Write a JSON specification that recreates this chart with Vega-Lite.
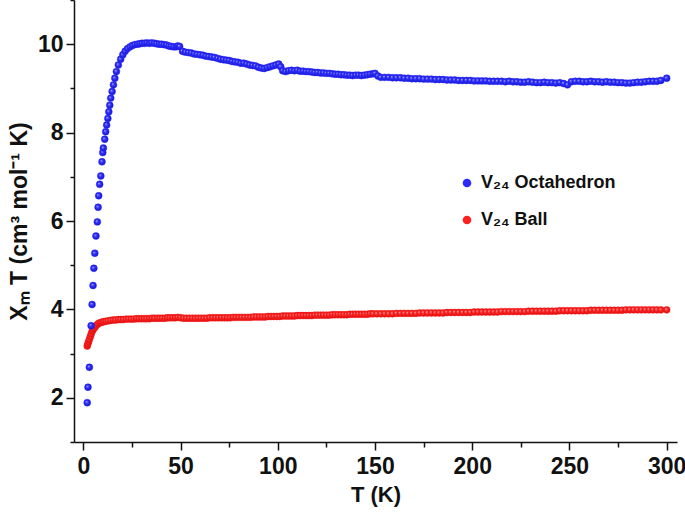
{
  "$schema": "https://vega.github.io/schema/vega-lite/v6.json",
  "width": 603,
  "height": 442,
  "autosize": "none",
  "padding": {"left": 74, "top": 0, "right": 8, "bottom": 71},
  "background": "white",
  "config": {
    "view": {"stroke": null},
    "font": "Liberation Sans",
    "axis": {
      "domainColor": "#111",
      "domainWidth": 1.5,
      "tickColor": "#111",
      "tickWidth": 1.5,
      "grid": false,
      "labelFont": "Liberation Sans",
      "labelFontWeight": "bold",
      "labelFontSize": 23,
      "labelColor": "#111",
      "titleFont": "Liberation Sans",
      "titleFontWeight": "bold",
      "titleFontSize": 22,
      "titleColor": "#111"
    }
  },
  "datasets": {
    "oct": [
      {"T": 2.0, "v": 1.89}, {"T": 2.4, "v": 2.24}, {"T": 3.1, "v": 2.69}, {"T": 4.0, "v": 3.63}, {"T": 4.5, "v": 4.11},
      {"T": 5.0, "v": 4.54}, {"T": 5.4, "v": 4.93}, {"T": 5.9, "v": 5.27}, {"T": 6.5, "v": 5.66}, {"T": 7.2, "v": 5.98},
      {"T": 7.6, "v": 6.31}, {"T": 7.9, "v": 6.57}, {"T": 8.4, "v": 6.83}, {"T": 9.0, "v": 7.02}, {"T": 9.6, "v": 7.34},
      {"T": 10.0, "v": 7.55}, {"T": 10.3, "v": 7.65}, {"T": 11.0, "v": 7.85}, {"T": 11.5, "v": 8.02}, {"T": 12.0, "v": 8.17},
      {"T": 12.6, "v": 8.32}, {"T": 13.1, "v": 8.47}, {"T": 13.6, "v": 8.62}, {"T": 14.1, "v": 8.78}, {"T": 14.8, "v": 8.93},
      {"T": 15.5, "v": 9.08}, {"T": 16.2, "v": 9.23}, {"T": 17.0, "v": 9.38}, {"T": 18.0, "v": 9.53}, {"T": 19.2, "v": 9.66},
      {"T": 20.3, "v": 9.76}, {"T": 21.5, "v": 9.84}, {"T": 22.7, "v": 9.9}, {"T": 24.0, "v": 9.94}, {"T": 25.2, "v": 9.97},
      {"T": 26.5, "v": 9.99}, {"T": 27.8, "v": 10.0}, {"T": 29.0, "v": 10.01}, {"T": 30.2, "v": 10.02}, {"T": 31.5, "v": 10.02},
      {"T": 32.7, "v": 10.03}, {"T": 34.0, "v": 10.02}, {"T": 35.2, "v": 10.03}, {"T": 36.5, "v": 10.02}, {"T": 37.7, "v": 10.01},
      {"T": 39.0, "v": 10.0}, {"T": 40.2, "v": 10.0}, {"T": 41.5, "v": 9.99}, {"T": 42.7, "v": 9.98}, {"T": 44.0, "v": 9.96},
      {"T": 45.2, "v": 9.95}, {"T": 46.5, "v": 9.94}, {"T": 47.7, "v": 9.94}, {"T": 48.5, "v": 9.96}, {"T": 49.5, "v": 9.95},
      {"T": 51.0, "v": 9.84}, {"T": 52.5, "v": 9.82}, {"T": 54.0, "v": 9.81}, {"T": 55.5, "v": 9.8}, {"T": 57.0, "v": 9.78},
      {"T": 58.5, "v": 9.77}, {"T": 60.0, "v": 9.76}, {"T": 61.5, "v": 9.75}, {"T": 63.0, "v": 9.73}, {"T": 64.5, "v": 9.72},
      {"T": 66.0, "v": 9.71}, {"T": 67.5, "v": 9.7}, {"T": 69.0, "v": 9.68}, {"T": 70.5, "v": 9.66}, {"T": 72.0, "v": 9.65},
      {"T": 73.5, "v": 9.64}, {"T": 75.0, "v": 9.63}, {"T": 76.5, "v": 9.61}, {"T": 78.0, "v": 9.6}, {"T": 79.5, "v": 9.59},
      {"T": 81.0, "v": 9.57}, {"T": 82.5, "v": 9.57}, {"T": 84.0, "v": 9.55}, {"T": 85.5, "v": 9.53}, {"T": 87.0, "v": 9.52},
      {"T": 88.5, "v": 9.51}, {"T": 90.0, "v": 9.48}, {"T": 91.5, "v": 9.46}, {"T": 93.0, "v": 9.45}, {"T": 94.5, "v": 9.47},
      {"T": 96.0, "v": 9.49}, {"T": 97.5, "v": 9.51}, {"T": 99.0, "v": 9.53}, {"T": 100.5, "v": 9.55}, {"T": 101.5, "v": 9.49},
      {"T": 102.5, "v": 9.4}, {"T": 104.0, "v": 9.38}, {"T": 105.5, "v": 9.4}, {"T": 107.0, "v": 9.41}, {"T": 108.5, "v": 9.4},
      {"T": 110.0, "v": 9.41}, {"T": 111.5, "v": 9.39}, {"T": 113.0, "v": 9.39}, {"T": 114.5, "v": 9.38}, {"T": 116.0, "v": 9.38},
      {"T": 117.5, "v": 9.37}, {"T": 119.0, "v": 9.36}, {"T": 120.5, "v": 9.36}, {"T": 122.0, "v": 9.35}, {"T": 123.5, "v": 9.35},
      {"T": 125.0, "v": 9.34}, {"T": 126.5, "v": 9.34}, {"T": 128.0, "v": 9.33}, {"T": 129.5, "v": 9.32}, {"T": 131.0, "v": 9.32},
      {"T": 132.5, "v": 9.31}, {"T": 134.0, "v": 9.31}, {"T": 135.5, "v": 9.3}, {"T": 137.0, "v": 9.3}, {"T": 138.5, "v": 9.29},
      {"T": 140.0, "v": 9.3}, {"T": 141.5, "v": 9.3}, {"T": 143.0, "v": 9.29}, {"T": 144.5, "v": 9.3}, {"T": 146.0, "v": 9.31},
      {"T": 147.5, "v": 9.32}, {"T": 149.0, "v": 9.33}, {"T": 150.0, "v": 9.34}, {"T": 151.5, "v": 9.28}, {"T": 153.0, "v": 9.25},
      {"T": 155, "v": 9.25}, {"T": 157, "v": 9.25}, {"T": 159, "v": 9.24}, {"T": 161, "v": 9.24}, {"T": 163, "v": 9.24},
      {"T": 165, "v": 9.23}, {"T": 167, "v": 9.23}, {"T": 169, "v": 9.22}, {"T": 171, "v": 9.22}, {"T": 173, "v": 9.22},
      {"T": 175, "v": 9.21}, {"T": 177, "v": 9.21}, {"T": 179, "v": 9.21}, {"T": 181, "v": 9.2}, {"T": 183, "v": 9.2},
      {"T": 185, "v": 9.2}, {"T": 187, "v": 9.19}, {"T": 189, "v": 9.19}, {"T": 191, "v": 9.19}, {"T": 193, "v": 9.18},
      {"T": 195, "v": 9.18}, {"T": 197, "v": 9.18}, {"T": 199, "v": 9.18}, {"T": 201, "v": 9.17}, {"T": 203, "v": 9.17},
      {"T": 205, "v": 9.17}, {"T": 207, "v": 9.17}, {"T": 209, "v": 9.16}, {"T": 211, "v": 9.16}, {"T": 213, "v": 9.16},
      {"T": 215, "v": 9.16}, {"T": 217, "v": 9.15}, {"T": 219, "v": 9.16}, {"T": 221, "v": 9.15}, {"T": 223, "v": 9.15},
      {"T": 225, "v": 9.14}, {"T": 227, "v": 9.14}, {"T": 229, "v": 9.15}, {"T": 231, "v": 9.14}, {"T": 233, "v": 9.13},
      {"T": 235, "v": 9.13}, {"T": 237, "v": 9.14}, {"T": 239, "v": 9.13}, {"T": 241, "v": 9.13}, {"T": 243, "v": 9.12},
      {"T": 245, "v": 9.13}, {"T": 247, "v": 9.11}, {"T": 249, "v": 9.08}, {"T": 251, "v": 9.15}, {"T": 253, "v": 9.16},
      {"T": 255, "v": 9.16}, {"T": 257, "v": 9.15}, {"T": 259, "v": 9.15}, {"T": 261, "v": 9.16}, {"T": 263, "v": 9.15},
      {"T": 265, "v": 9.15}, {"T": 267, "v": 9.14}, {"T": 269, "v": 9.15}, {"T": 271, "v": 9.14}, {"T": 273, "v": 9.14},
      {"T": 275, "v": 9.13}, {"T": 277, "v": 9.13}, {"T": 279, "v": 9.12}, {"T": 281, "v": 9.12}, {"T": 283, "v": 9.13},
      {"T": 285, "v": 9.14}, {"T": 287, "v": 9.14}, {"T": 289, "v": 9.15}, {"T": 291, "v": 9.16}, {"T": 293, "v": 9.16},
      {"T": 295, "v": 9.16}, {"T": 297, "v": 9.18}, {"T": 300, "v": 9.23}
    ],
    "ball": [
      {"T": 2.0, "v": 3.17}, {"T": 2.3, "v": 3.22}, {"T": 2.7, "v": 3.27}, {"T": 3.1, "v": 3.32}, {"T": 3.6, "v": 3.38},
      {"T": 4.0, "v": 3.44}, {"T": 4.5, "v": 3.5}, {"T": 5.0, "v": 3.54}, {"T": 5.7, "v": 3.58}, {"T": 6.3, "v": 3.62},
      {"T": 7.0, "v": 3.65}, {"T": 7.8, "v": 3.68}, {"T": 8.7, "v": 3.7}, {"T": 9.5, "v": 3.71}, {"T": 10.4, "v": 3.72},
      {"T": 11.5, "v": 3.73}, {"T": 12.7, "v": 3.74}, {"T": 14.0, "v": 3.75}, {"T": 15.3, "v": 3.76}, {"T": 16.6, "v": 3.76},
      {"T": 18.0, "v": 3.77}, {"T": 19.3, "v": 3.77}, {"T": 20.6, "v": 3.77}, {"T": 22.0, "v": 3.78}, {"T": 23.3, "v": 3.78},
      {"T": 24.6, "v": 3.78}, {"T": 26.0, "v": 3.78}, {"T": 27.3, "v": 3.79}, {"T": 28.6, "v": 3.79}, {"T": 30.0, "v": 3.79},
      {"T": 31.3, "v": 3.79}, {"T": 32.6, "v": 3.79}, {"T": 34.0, "v": 3.79}, {"T": 35.3, "v": 3.8}, {"T": 36.6, "v": 3.8},
      {"T": 38.0, "v": 3.8}, {"T": 39.3, "v": 3.8}, {"T": 40.6, "v": 3.8}, {"T": 42.0, "v": 3.8}, {"T": 43.3, "v": 3.81},
      {"T": 44.6, "v": 3.81}, {"T": 46.0, "v": 3.81}, {"T": 47.3, "v": 3.81}, {"T": 48.6, "v": 3.82}, {"T": 50.0, "v": 3.81},
      {"T": 51.5, "v": 3.8}, {"T": 53.0, "v": 3.8}, {"T": 54.5, "v": 3.8}, {"T": 56.0, "v": 3.8}, {"T": 57.5, "v": 3.8},
      {"T": 59.0, "v": 3.8}, {"T": 60.5, "v": 3.8}, {"T": 62.0, "v": 3.8}, {"T": 63.5, "v": 3.8}, {"T": 65.0, "v": 3.81},
      {"T": 66.5, "v": 3.81}, {"T": 68.0, "v": 3.81}, {"T": 69.5, "v": 3.81}, {"T": 71.0, "v": 3.81}, {"T": 72.5, "v": 3.81},
      {"T": 74.0, "v": 3.81}, {"T": 75.5, "v": 3.81}, {"T": 77.0, "v": 3.82}, {"T": 78.5, "v": 3.82}, {"T": 80.0, "v": 3.82},
      {"T": 81.5, "v": 3.82}, {"T": 83.0, "v": 3.82}, {"T": 84.5, "v": 3.82}, {"T": 86.0, "v": 3.82}, {"T": 87.5, "v": 3.83},
      {"T": 89.0, "v": 3.83}, {"T": 90.5, "v": 3.83}, {"T": 92.0, "v": 3.83}, {"T": 93.5, "v": 3.83}, {"T": 95.0, "v": 3.84},
      {"T": 96.5, "v": 3.84}, {"T": 98.0, "v": 3.84}, {"T": 99.5, "v": 3.84}, {"T": 101.0, "v": 3.84}, {"T": 102.5, "v": 3.85},
      {"T": 104.0, "v": 3.85}, {"T": 105.5, "v": 3.85}, {"T": 107.0, "v": 3.85}, {"T": 108.5, "v": 3.85}, {"T": 110.0, "v": 3.86},
      {"T": 111.5, "v": 3.86}, {"T": 113.0, "v": 3.86}, {"T": 114.5, "v": 3.86}, {"T": 116.0, "v": 3.86}, {"T": 117.5, "v": 3.86},
      {"T": 119.0, "v": 3.87}, {"T": 120.5, "v": 3.87}, {"T": 122.0, "v": 3.87}, {"T": 123.5, "v": 3.87}, {"T": 125.0, "v": 3.87},
      {"T": 126.5, "v": 3.87}, {"T": 128.0, "v": 3.88}, {"T": 129.5, "v": 3.88}, {"T": 131.0, "v": 3.88}, {"T": 132.5, "v": 3.88},
      {"T": 134.0, "v": 3.88}, {"T": 135.5, "v": 3.88}, {"T": 137.0, "v": 3.89}, {"T": 138.5, "v": 3.89}, {"T": 140.0, "v": 3.89},
      {"T": 141.5, "v": 3.89}, {"T": 143.0, "v": 3.89}, {"T": 144.5, "v": 3.89}, {"T": 146.0, "v": 3.89}, {"T": 147.5, "v": 3.9},
      {"T": 149.0, "v": 3.9}, {"T": 151, "v": 3.9}, {"T": 153, "v": 3.9}, {"T": 155, "v": 3.9}, {"T": 157, "v": 3.9},
      {"T": 159, "v": 3.9}, {"T": 161, "v": 3.91}, {"T": 163, "v": 3.91}, {"T": 165, "v": 3.91}, {"T": 167, "v": 3.91},
      {"T": 169, "v": 3.91}, {"T": 171, "v": 3.91}, {"T": 173, "v": 3.92}, {"T": 175, "v": 3.92}, {"T": 177, "v": 3.92},
      {"T": 179, "v": 3.92}, {"T": 181, "v": 3.92}, {"T": 183, "v": 3.92}, {"T": 185, "v": 3.92}, {"T": 187, "v": 3.93},
      {"T": 189, "v": 3.93}, {"T": 191, "v": 3.93}, {"T": 193, "v": 3.93}, {"T": 195, "v": 3.93}, {"T": 197, "v": 3.93},
      {"T": 199, "v": 3.93}, {"T": 201, "v": 3.94}, {"T": 203, "v": 3.94}, {"T": 205, "v": 3.94}, {"T": 207, "v": 3.94},
      {"T": 209, "v": 3.94}, {"T": 211, "v": 3.94}, {"T": 213, "v": 3.94}, {"T": 215, "v": 3.95}, {"T": 217, "v": 3.95},
      {"T": 219, "v": 3.95}, {"T": 221, "v": 3.95}, {"T": 223, "v": 3.95}, {"T": 225, "v": 3.95}, {"T": 227, "v": 3.95},
      {"T": 229, "v": 3.96}, {"T": 231, "v": 3.96}, {"T": 233, "v": 3.96}, {"T": 235, "v": 3.96}, {"T": 237, "v": 3.96},
      {"T": 239, "v": 3.96}, {"T": 241, "v": 3.96}, {"T": 243, "v": 3.96}, {"T": 245, "v": 3.97}, {"T": 247, "v": 3.97},
      {"T": 249, "v": 3.97}, {"T": 251, "v": 3.97}, {"T": 253, "v": 3.97}, {"T": 255, "v": 3.97}, {"T": 257, "v": 3.97},
      {"T": 259, "v": 3.97}, {"T": 261, "v": 3.98}, {"T": 263, "v": 3.98}, {"T": 265, "v": 3.98}, {"T": 267, "v": 3.98},
      {"T": 269, "v": 3.98}, {"T": 271, "v": 3.98}, {"T": 273, "v": 3.98}, {"T": 275, "v": 3.98}, {"T": 277, "v": 3.98},
      {"T": 279, "v": 3.99}, {"T": 281, "v": 3.99}, {"T": 283, "v": 3.99}, {"T": 285, "v": 3.99}, {"T": 287, "v": 3.99},
      {"T": 289, "v": 3.99}, {"T": 291, "v": 3.99}, {"T": 293, "v": 3.99}, {"T": 295, "v": 3.99}, {"T": 297, "v": 3.99},
      {"T": 300, "v": 3.99}
    ]
  },
  "layer": [
    {
      "data": {"name": "ball"},
      "mark": {
        "type": "circle", "size": 48, "opacity": 1, "strokeWidth": 0.5,
        "fill": {"gradient": "radial", "x1": 0.38, "y1": 0.35, "r1": 0, "x2": 0.5, "y2": 0.5, "r2": 0.55,
          "stops": [{"offset": 0, "color": "#ffb0b0"}, {"offset": 0.35, "color": "#ff3030"}, {"offset": 1, "color": "#d00000"}]}
      },
      "encoding": {
        "x": {
          "field": "T", "type": "quantitative",
          "scale": {"domain": [-4.8, 305.3], "nice": false, "zero": false},
          "axis": {"orient": "bottom", "values": [25, 75, 125, 175, 225, 275], "labels": false, "tickSize": 5, "title": null, "domain": false}
        },
        "y": {
          "field": "v", "type": "quantitative",
          "scale": {"domain": [1, 11], "nice": false, "zero": false},
          "axis": {"orient": "left", "values": [1, 3, 5, 7, 9, 11], "labels": false, "tickSize": 4, "title": null, "domain": false}
        },
        "stroke": {
          "datum": "V₂₄ Ball", "type": "nominal",
          "scale": {"domain": ["V₂₄ Octahedron", "V₂₄ Ball"], "range": ["#2a2aff", "#ff2020"]},
          "legend": {
            "orient": "none", "legendX": 384, "legendY": 174, "title": null,
            "symbolType": "circle", "symbolSize": 16, "symbolStrokeWidth": 4.6,
            "labelFont": "Liberation Sans", "labelFontWeight": "bold", "labelFontSize": 18, "labelColor": "#111",
            "labelOffset": 5, "rowPadding": 13, "padding": 0
          }
        }
      }
    },
    {
      "data": {"name": "oct"},
      "mark": {
        "type": "circle", "size": 48, "opacity": 1, "strokeWidth": 0.5,
        "fill": {"gradient": "radial", "x1": 0.38, "y1": 0.35, "r1": 0, "x2": 0.5, "y2": 0.5, "r2": 0.55,
          "stops": [{"offset": 0, "color": "#c0c0ff"}, {"offset": 0.35, "color": "#3535ff"}, {"offset": 1, "color": "#1010c8"}]}
      },
      "encoding": {
        "x": {
          "field": "T", "type": "quantitative",
          "axis": {"orient": "bottom", "values": [0, 50, 100, 150, 200, 250, 300], "tickSize": 8, "labelPadding": 5, "title": "T (K)", "titlePadding": 6}
        },
        "y": {
          "field": "v", "type": "quantitative",
          "axis": {"orient": "left", "values": [2, 4, 6, 8, 10], "tickSize": 8, "labelPadding": 3, "title": "Xₘ T (cm³ mol⁻¹ K)", "titleFontSize": 23, "titlePadding": 6}
        },
        "stroke": {"datum": "V₂₄ Octahedron", "type": "nominal"}
      }
    }
  ],
  "resolve": {"axis": {"x": "independent", "y": "independent"}}
}
